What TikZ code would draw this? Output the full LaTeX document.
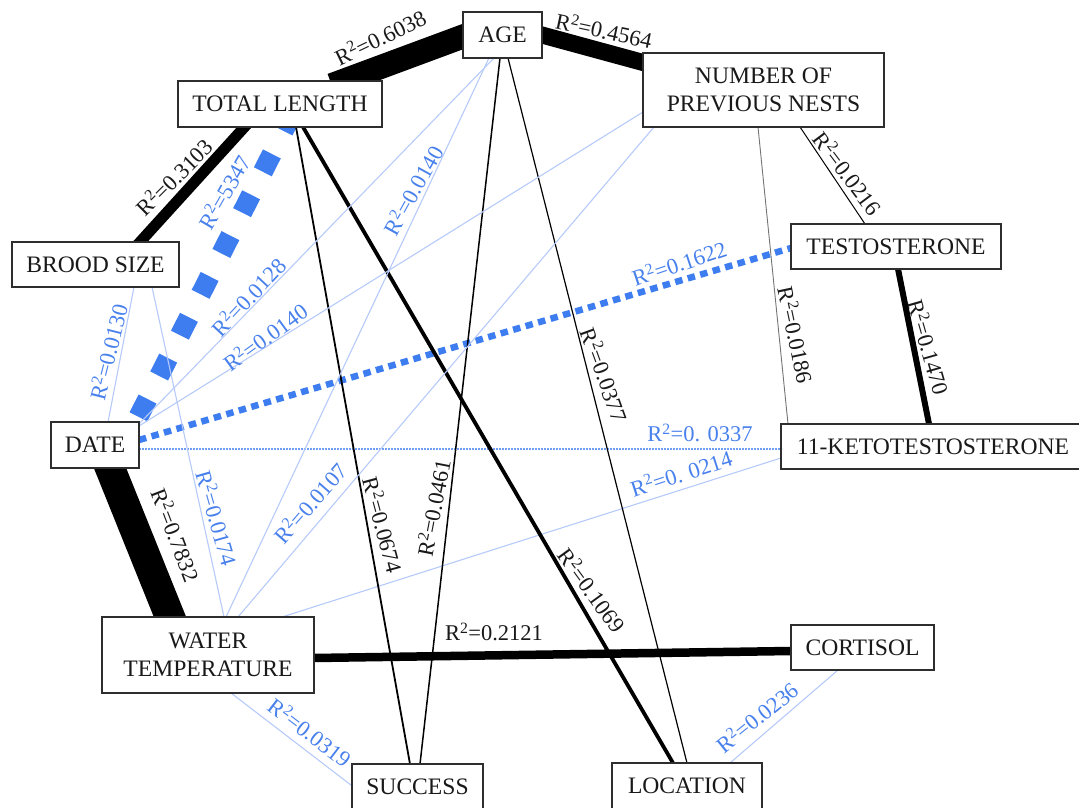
\documentclass[tikz,border=0pt]{standalone}
\usepackage{fontspec}
\setmainfont{Liberation Serif}
\usetikzlibrary{calc}
\pgfdeclarelayer{bg}
\pgfsetlayers{bg,main}
\definecolor{lblue}{RGB}{182,202,250}
\definecolor{mblue}{RGB}{62,125,240}
\definecolor{tblue}{RGB}{72,128,236}
\begin{document}
\begin{tikzpicture}[x=1pt,y=-1pt,
  box/.style={draw=black!82, line width=1.8pt, fill=white, inner sep=0pt, align=center,
    font=\fontsize{23.6}{28}\selectfont, text=black!90},
  lab/.style={inner sep=0pt, font=\fontsize{22.5}{25}\selectfont},
  blab/.style={lab, text=tblue},
  klab/.style={lab, text=black!90},
  blk/.style={draw=black, line width=#1, shorten <=-12pt, shorten >=-12pt},
  lb/.style={draw=lblue, line width=1.1pt, shorten <=-6pt, shorten >=-6pt}]
\useasboundingbox (0,0) rectangle (1079,808);
% nodes
\node[box, minimum width=79pt, minimum height=46pt] (age) at (502.5,35) {AGE};
\node[box, minimum width=204pt, minimum height=46pt] (tl) at (280,104) {TOTAL LENGTH};
\node[box, minimum width=241pt, minimum height=74pt] (npn) at (763.5,90) {NUMBER OF\\PREVIOUS NESTS};
\node[box, minimum width=210pt, minimum height=45pt] (testo) at (896,246.5) {TESTOSTERONE};
\node[box, minimum width=167pt, minimum height=45pt] (bs) at (95.5,264.5) {BROOD SIZE};
\node[box, minimum width=88pt, minimum height=46pt] (date) at (95,445) {DATE};
\node[box, minimum width=304pt, minimum height=45pt] (ket) at (933,446.5) {11-KETOTESTOSTERONE};
\node[box, minimum width=212pt, minimum height=76pt] (wt) at (208,655) {WATER\\TEMPERATURE};
\node[box, minimum width=143pt, minimum height=45pt] (cort) at (862.5,647.5) {CORTISOL};
\node[box, minimum width=131pt, minimum height=46pt] (succ) at (417.5,787) {SUCCESS};
\node[box, minimum width=150pt, minimum height=46pt] (loc) at (687,786) {LOCATION};
% connectors
\begin{pgfonlayer}{bg}
\draw[blk=24pt] ($(tl)+(63,-23)$) -- ($(age)+(-39.5,1.5)$);
\draw[blk=17pt] ($(age)+(39.5,0)$) -- ($(npn)+(-120.5,-27.5)$);
\draw[blk=11pt] ($(tl)+(-35.5,23)$) -- ($(bs)+(44.5,-22.5)$);
\draw[draw=mblue, line width=20pt, dash pattern=on 20pt off 25.8pt] ($(tl)+(12.6,9.1)$) -- ($(date)+(43.4,-28.1)$);
\draw[blk=1pt] ($(npn)+(36.5,37)$) -- ($(testo)+(-31,-22.5)$);
\draw[blk=0.9pt, draw=black!55] ($(npn)+(-5.5,37)$) -- ($(ket)+(-145,-22.5)$);
\draw[blk=6pt] ($(testo)+(2,22.5)$) -- ($(ket)+(-4,-22.5)$);
\draw[draw=mblue, line width=6.5pt, dash pattern=on 7.5pt off 5.5pt] ($(date)+(44,-5)$) -- ($(testo)+(-105,1.5)$);
\draw[draw=mblue!75, line width=1.2pt, dash pattern=on 1.5pt off 1.5pt] ($(date)+(44,4)$) -- ($(ket)+(-152,2.5)$);
\draw[lb] ($(wt)+(74,-38)$) -- ($(ket)+(-152,11.5)$);
\draw[blk=30pt] ($(date)+(15,23)$) -- ($(wt)+(-38,-38)$);
\draw[blk=8.5pt] ($(wt)+(106,3)$) -- ($(cort)+(-71.5,3.5)$);
\draw[lb] ($(wt)+(23,38)$) -- ($(succ)+(-70.5,-5)$);
\draw[lb] ($(cort)+(-24.5,22.5)$) -- ($(loc)+(43,-23)$);
\draw[blk=1.8pt] ($(tl)+(16,23)$) -- ($(succ)+(-7.5,-23)$);
\draw[blk=1.5pt] ($(age)+(-2.5,23)$) -- ($(succ)+(2.5,-23)$);
\draw[blk=1.2pt] ($(age)+(5.5,23)$) -- ($(loc)+(0,-23)$);
\draw[blk=3.8pt] ($(tl)+(23,23)$) -- ($(loc)+(-14,-23)$);
\draw[lb] ($(bs)+(38.5,22.5)$) -- ($(date)+(13,-23)$);
\draw[lb] ($(bs)+(56.5,22.5)$) -- ($(wt)+(16,-38)$);
\draw[lb] ($(age)+(-13.5,23)$) -- ($(wt)+(18,-38)$);
\draw[lb] ($(age)+(-8.5,23)$) -- ($(date)+(44,-21)$);
\draw[lb] ($(npn)+(-120.5,22)$) -- ($(date)+(44,-19)$);
\draw[lb] ($(npn)+(-109.5,37)$) -- ($(wt)+(30,-38)$);
\end{pgfonlayer}
% labels
\node[klab, rotate=25.6] (l1) at (380,37) {R\textsuperscript{2}=0.6038};
\node[klab, rotate=-12] (l2) at (604,30) {R\textsuperscript{2}=0.4564};
\node[klab, rotate=45] (l3) at (174,177) {R\textsuperscript{2}=0.3103};
\node[blab, rotate=60] (l4) at (224,192) {R\textsuperscript{2}=5347};
\node[blab, rotate=61] (l5) at (413,190) {R\textsuperscript{2}=0.0140};
\node[blab, rotate=47] (l6) at (248,297) {R\textsuperscript{2}=0.0128};
\node[blab, rotate=36] (l7) at (265,337) {R\textsuperscript{2}=0.0140};
\node[blab, rotate=76] (l8) at (108,352) {R\textsuperscript{2}=0.0130};
\node[blab, rotate=-74] (l9) at (217,518) {R\textsuperscript{2}=0.0174};
\node[klab, rotate=-69] (l10) at (176,535) {R\textsuperscript{2}=0.7832};
\node[blab, rotate=49] (l11) at (310,503) {R\textsuperscript{2}=0.0107};
\node[klab, rotate=-75] (l12) at (383,525) {R\textsuperscript{2}=0.0674};
\node[klab, rotate=79] (l13) at (433,508) {R\textsuperscript{2}=0.0461};
\node[klab, rotate=-70] (l14) at (605,375) {R\textsuperscript{2}=0.0377};
\node[klab, rotate=-54] (l15) at (592,590) {R\textsuperscript{2}=0.1069};
\node[klab] (l16) at (494,632) {R\textsuperscript{2}=0.2121};
\node[blab, rotate=-37.5] (l17) at (310,732) {R\textsuperscript{2}=0.0319};
\node[blab, rotate=39] (l18) at (757,717) {R\textsuperscript{2}=0.0236};
\node[blab, rotate=18.6] (l19) at (679,263) {R\textsuperscript{2}=0.1622};
\node[klab, rotate=-78] (l20) at (796,335) {R\textsuperscript{2}=0.0186};
\node[klab, rotate=-74] (l21) at (929,347) {R\textsuperscript{2}=0.1470};
\node[klab, rotate=-53] (l22) at (848,173) {R\textsuperscript{2}=0.0216};
\node[blab] (l23) at (700,433) {R\textsuperscript{2}=0. 0337};
\node[blab, rotate=18] (l24) at (681,473) {R\textsuperscript{2}=0. 0214};
\end{tikzpicture}
\end{document}
